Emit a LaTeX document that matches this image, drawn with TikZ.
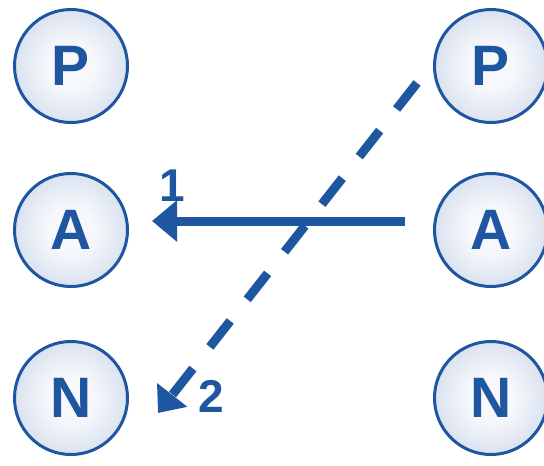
\documentclass[tikz,border=0pt]{standalone}
\usepackage{fontspec}
\setmainfont{Liberation Sans}
\usetikzlibrary{arrows.meta}
\definecolor{ink}{RGB}{30,86,160}
\definecolor{glow}{RGB}{246,248,251}
\definecolor{rim}{RGB}{180,196,224}
% soft white-to-blue fill for the circles
\pgfdeclareradialshading{ball}{\pgfpoint{0bp}{0bp}}{%
  color(0bp)=(glow); color(10bp)=(glow); color(30bp)=(rim!55!glow); color(50bp)=(rim)}
\begin{document}
\begin{tikzpicture}[x=1pt,y=-1pt,
  atom/.style={circle, draw=ink, line width=3pt, minimum size=113pt, inner sep=0pt,
    shading=ball, text=ink,
    font=\bfseries\fontsize{57}{57}\selectfont},
  link/.style={draw=ink, line width=9pt},
  tag/.style={text=ink, inner sep=0pt, font=\bfseries\fontsize{46}{46}\selectfont}]
\useasboundingbox[fill=white] (0,0) rectangle (544,466);

% two columns of P / A / N
\node[atom] (lP) at (71,66)  {P};
\node[atom] (lA) at (71,230) {A};
\node[atom] (lN) at (71,398) {N};
\node[atom] (rP) at (491,66)  {P};
\node[atom] (rA) at (491,230) {A};
\node[atom] (rN) at (491,398) {N};

% step 1: solid arrow A -> A
\draw[link, -{Triangle[length=25pt,width=40pt]}, shorten <=28pt, shorten >=23pt]
  ([yshift=9pt]rA.west) -- ([yshift=9pt]lA.east);

% step 2: dashed arrow P -> N
\draw[link, dash pattern=on 33pt off 27.5pt, -{Triangle[length=23pt,width=37pt]}]
  ([xshift=-16pt,yshift=-17pt]rP.west) -- ([xshift=29pt,yshift=-15pt]lN.east);

\node[tag] (one) at (172,186) {1};
\node[tag] (two) at (211,396) {2};
\end{tikzpicture}
\end{document}
